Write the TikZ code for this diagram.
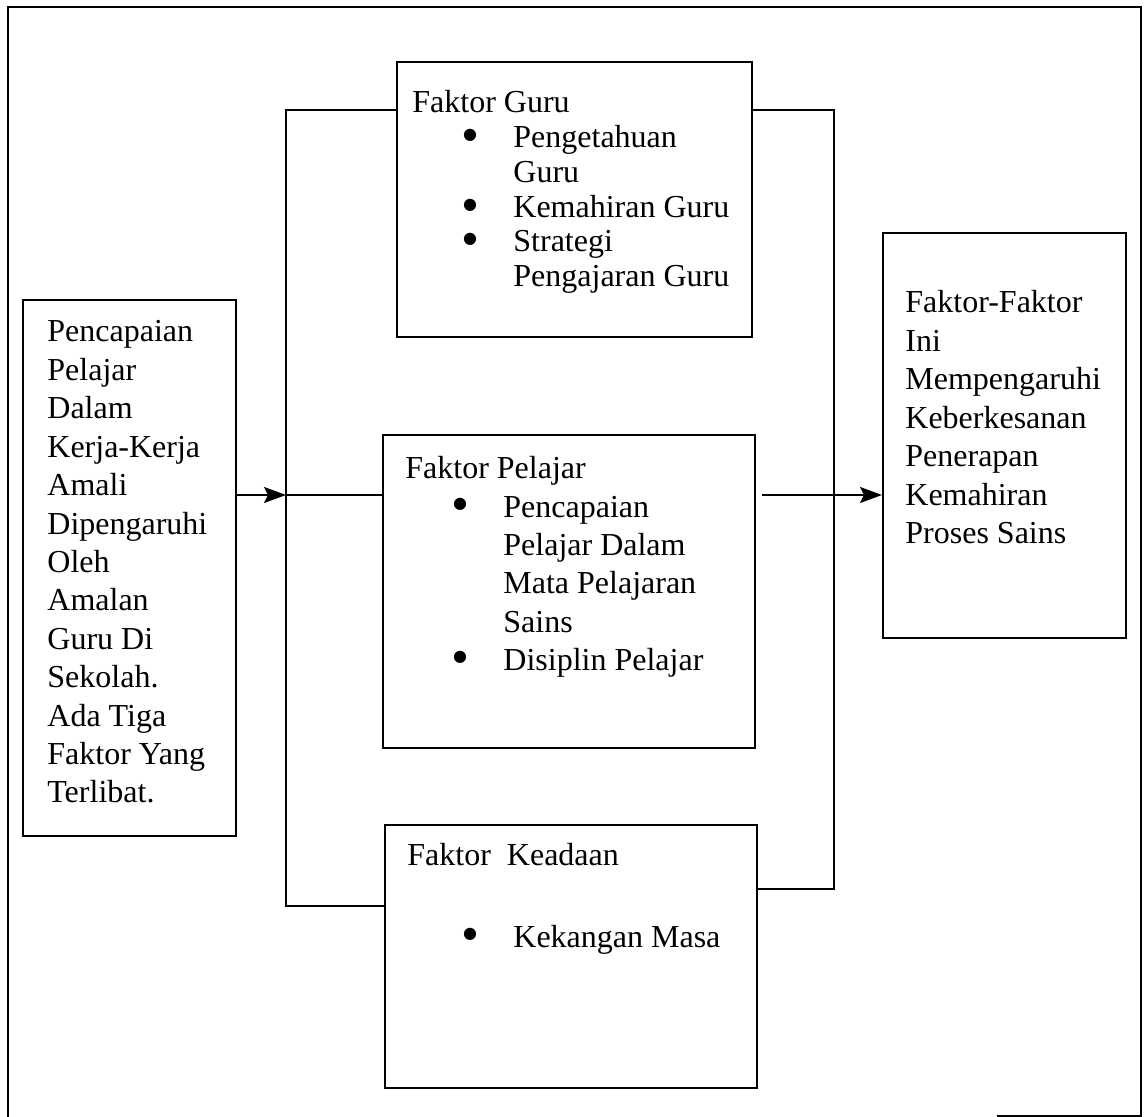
\documentclass[tikz,border=0pt]{standalone}
\usepackage{fontspec}
\setmainfont{Liberation Serif}
\newfontfamily\bulfont{DejaVu Sans}
\usetikzlibrary{fit,arrows.meta}
\begin{document}
\begin{tikzpicture}[x=0.5pt,y=-0.5pt]
\tikzset{
  box/.style={draw=black, line width=1pt, inner sep=0pt, fit={#1}},
  txt/.style={anchor=base west, inner sep=0pt, font=\fontsize{16pt}{19pt}\selectfont},
  bul/.style={anchor=center, inner sep=0pt, yshift=6.5pt, font=\bulfont\fontsize{8pt}{8pt}\selectfont},
  link/.style={draw=black, line width=0.9pt},
  arr/.style={link, -{Stealth[length=11pt,width=8pt,inset=2pt]}},
  frameline/.style={draw=black, line width=1pt}
}
\useasboundingbox (0,0) rectangle (1145,1117);
% outer frame
\draw[frameline] (8,1117) -- (8,7) -- (1141,7) -- (1141,1116) -- (997,1116);
% boxes
\node[box={(23,300) (236,836)}] (L) {};
\node[box={(397,62) (752,337)}] (G) {};
\node[box={(383,435) (755,748)}] (P) {};
\node[box={(385,825) (757,1088)}] (K) {};
\node[box={(883,233) (1126,638)}] (R) {};
% brackets
\coordinate (bl1) at (286,110);
\coordinate (bl2) at (286,906);
\coordinate (br1) at (834,110);
\coordinate (br2) at (834,889);
\draw[link] (G.west |- bl1) -- (bl1) -- (bl2) -- (K.west |- bl2);
\draw[link] (G.east |- br1) -- (br1) -- (br2) -- (K.east |- br2);
% arrows
\coordinate (a1) at (286,495);
\draw[arr] (L.east |- a1) -- (a1);
\draw[link] (a1) -- (P.west |- a1);
\draw[arr, shorten <=3pt] (P.east |- a1) -- (R.west |- a1);
% left box text
\foreach \t [count=\i from 0] in {Pencapaian, Pelajar, Dalam, Kerja-Kerja, Amali, Dipengaruhi, Oleh, Amalan, Guru Di, Sekolah., Ada Tiga, Faktor Yang, Terlibat.}
  \node[txt] (lt\i) at (47, {342+38.4*\i}) {\t};
% Guru box
\node[txt] (g0) at (412,113) {Faktor Guru};
\node[bul] (gb1) at (470,148) {●};
\node[bul] (gb2) at (470,218) {●};
\node[bul] (gb3) at (470,252) {●};
\node[txt] (g1) at (513,148) {Pengetahuan};
\node[txt] (g2) at (513,183) {Guru};
\node[txt] (g3) at (513,218) {Kemahiran Guru};
\node[txt] (g4) at (513,252) {Strategi};
\node[txt] (g5) at (513,287) {Pengajaran Guru};
% Pelajar box
\node[txt] (p0) at (405,478) {Faktor Pelajar};
\node[bul] (pb1) at (460,517) {●};
\node[bul] (pb2) at (460,670) {●};
\node[txt] (p1) at (503,517) {Pencapaian};
\node[txt] (p2) at (503,555) {Pelajar Dalam};
\node[txt] (p3) at (503,593) {Mata Pelajaran};
\node[txt] (p4) at (503,632) {Sains};
\node[txt] (p5) at (503,670) {Disiplin Pelajar};
% Keadaan box
\node[txt] (k0) at (407,865) {Faktor\ \ Keadaan};
\node[bul] (kb1) at (470,947) {●};
\node[txt] (k1) at (513,947) {Kekangan Masa};
% right box text
\foreach \t [count=\i from 0] in {Faktor-Faktor, Ini, Mempengaruhi, Keberkesanan, Penerapan, Kemahiran, Proses Sains}
  \node[txt] (rt\i) at (905, {313+38.4*\i}) {\t};
\end{tikzpicture}
\end{document}
